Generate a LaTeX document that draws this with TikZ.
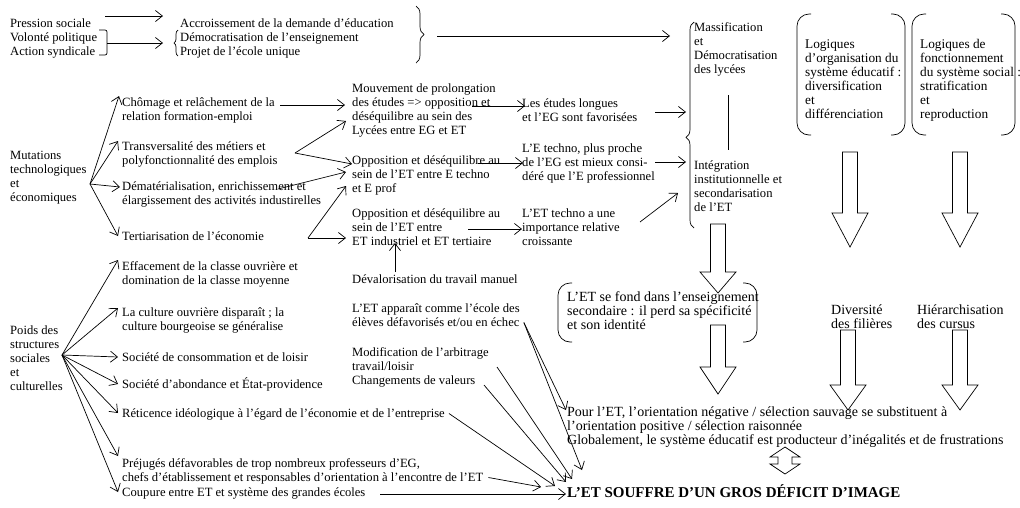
\documentclass[tikz,border=0pt]{standalone}
\usepackage{fontspec}
\setmainfont{Liberation Serif}
\usetikzlibrary{arrows.meta,decorations.pathreplacing}
\newcommand\blockdn[4]{\draw[ln] ({#1-7.5},#2) -- ({#1+7.5},#2) -- ({#1+7.5},#3) -- ({#1+18},#3) -- (#1,#4) -- ({#1-18},#3) -- ({#1-7.5},#3) -- cycle;}
\newcommand\parenpair[4]{%
  \draw[ln, rounded corners=12pt] ({#1+14},#3) -- (#1,#3) -- (#1,#4) -- ({#1+14},#4);
  \draw[ln, rounded corners=12pt] ({#2-14},#3) -- (#2,#3) -- (#2,#4) -- ({#2-14},#4);}
\begin{document}
\begin{tikzpicture}[x=1pt,y=-1pt,
  txt/.style={anchor=base west, inner sep=0pt, align=left, font=\fontsize{12.6}{14}\selectfont},
  bigtxt/.style={txt, font=\fontsize{14}{14}\selectfont},
  logtxt/.style={txt, font=\fontsize{13.3}{14}\selectfont},
  ln/.style={line width=0.7pt},
  arr/.style={ln, -{Straight Barb[length=7pt,width=11pt]}},
  brc/.style={ln, decorate, decoration={brace, amplitude=#1}},
]
\path[fill=white] (0,0) rectangle (1020,507);
\useasboundingbox (0,0) rectangle (1020,507);

% ---------- top block (base anchor = last line)
\node[txt] (left1) at (10,55.5) {Pression sociale\\Volonté politique\\Action syndicale};
\node[txt] (acc) at (180,55.5) {Accroissement de la demande d’éducation\\Démocratisation de l’enseignement\\Projet de l’école unique};
\coordinate (p1s) at (105,16); \coordinate (p1e) at (163,16);
\draw[arr] (p1s) -- (p1e);
\draw[ln, rounded corners=2pt] (99,30) -- (107,30) -- (107,55) -- (99,55);
\coordinate (p2s) at (107,43); \coordinate (p2e) at (163,43);
\draw[arr] (p2s) -- (p2e);
\draw[brc=4pt] (178,56) -- (178,30);
\draw[brc=8pt] (416,6) -- (416,63);
\coordinate (p3s) at (437,36); \coordinate (p3e) at (670,36);
\draw[arr] (p3s) -- (p3e);

% ---------- right column
\node[txt] (mass) at (694,73) {Massification\\et\\Démocratisation\\des lycées};
\coordinate (vl1) at (728,95); \coordinate (vl2) at (728,150);
\draw[ln] (vl1) -- (vl2);
\node[txt] (integ) at (694,211.5) {Intégration\\institutionnelle et\\secondarisation\\de l’ET};
\draw[ln, decorate, decoration={brace, amplitude=8pt, aspect=0.44}] (694,228) -- (694,22);

\node[logtxt] (log1) at (805,118.5) {Logiques\\d’organisation du\\système éducatif :\\diversification\\et\\différenciation};
\node[logtxt] (log2) at (920,118.5) {Logiques de\\fonctionnement\\du système social :\\stratification\\et\\reproduction};
\parenpair{797}{905}{14}{135}
\parenpair{912}{1015}{14}{135}

% ---------- middle column
\node[txt] (etl) at (522,121.5) {Les études longues\\et l’EG sont favorisées};
\node[txt] (etech) at (522,180.5) {L’E techno, plus proche\\de l’EG est mieux consi-\\déré que l’E professionnel};
\node[txt] (ettech) at (522,245.5) {L’ET techno a une\\importance relative\\croissante};

\node[txt] (mouv) at (352,134.5) {Mouvement de prolongation\\des études => opposition et\\déséquilibre au sein des\\Lycées entre EG et ET};
\node[txt] (opp1) at (352,192.5) {Opposition et déséquilibre au\\sein de l’ET entre E techno\\et E prof};
\node[txt] (opp2) at (352,245.5) {Opposition et déséquilibre au\\sein de l’ET entre\\ET industriel et ET tertiaire};
\node[txt] (deval) at (352,283.5) {Dévalorisation du travail manuel};
\node[txt] (appar) at (352,326.5) {L’ET apparaît comme l’école des\\élèves défavorisés et/ou en échec};
\node[txt] (modif) at (352,384.5) {Modification de l’arbitrage\\travail/loisir\\Changements de valeurs};

% ---------- mutations
\node[txt] (mut) at (10,201.5) {Mutations\\technologiques\\et\\économiques};
\node[txt] (chom) at (122,120.5) {Chômage et relâchement de la\\relation formation-emploi};
\node[txt] (transv) at (122,164.5) {Transversalité des métiers et\\polyfonctionnalité des emplois};
\node[txt] (demat) at (122,204.5) {Dématérialisation, enrichissement et\\élargissement des activités industirelles};
\node[txt] (tert) at (122,240.5) {Tertiarisation de l’économie};

\coordinate (fm) at (90,184);
\coordinate (fm1) at (119,96); \coordinate (fm2) at (118,141);
\coordinate (fm3) at (120,187); \coordinate (fm4) at (118,236);
\foreach \t in {fm1,fm2,fm3,fm4} \draw[arr] (fm) -- (\t);

\coordinate (c1s) at (280,105); \coordinate (c1e) at (345,105);
\draw[arr] (c1s) -- (c1e);
\coordinate (tv) at (295,153); \coordinate (tv1) at (346,121); \coordinate (tv2) at (352,164);
\draw[arr] (tv) -- (tv1); \draw[arr] (tv) -- (tv2);
\coordinate (dm) at (278,189); \coordinate (dm1) at (346,172);
\draw[arr] (dm) -- (dm1);
\coordinate (tt) at (308,238); \coordinate (tt1) at (346,186); \coordinate (tt2) at (346,238);
\draw[arr] (tt) -- (tt1); \draw[arr] (tt) -- (tt2);

\coordinate (m1s) at (472,106); \coordinate (m1e) at (525,106);
\draw[arr] (m1s) -- (m1e);
\coordinate (o1s) at (478,163); \coordinate (o1e) at (523,163);
\draw[arr] (o1s) -- (o1e);
\coordinate (o2s) at (468,229); \coordinate (o2e) at (522,229);
\draw[arr] (o2s) -- (o2e);
\coordinate (dvs) at (395,272); \coordinate (dve) at (395,243);
\draw[arr] (dvs) -- (dve);

\coordinate (e1s) at (655,112); \coordinate (e1e) at (686,112);
\draw[arr] (e1s) -- (e1e);
\coordinate (e2s) at (655,162); \coordinate (e2e) at (686,162);
\draw[arr] (e2s) -- (e2e);
\coordinate (e3s) at (640,222); \coordinate (e3e) at (678,193);
\draw[arr] (e3s) -- (e3e);

% ---------- poids
\node[txt] (poids) at (10,390.5) {Poids des\\structures\\sociales\\et\\culturelles};
\node[txt] (eff) at (122,284.5) {Effacement de la classe ouvrière et\\domination de la classe moyenne};
\node[txt] (cult) at (122,330.5) {La culture ouvrière disparaît ; la\\culture bourgeoise se généralise};
\node[txt] (conso) at (122,361.5) {Société de consommation et de loisir};
\node[txt] (abond) at (122,388.5) {Société d’abondance et État-providence};
\node[txt] (retic) at (122,417.5) {Réticence idéologique à l’égard de l’économie et de l’entreprise};
\node[txt] (prej) at (122,481.5) {Préjugés défavorables de trop nombreux professeurs d’EG,\\chefs d’établissement et responsables d’orientation à l’encontre de l’ET};
\node[txt] (coup) at (122,496.5) {Coupure entre ET et système des grandes écoles};

\coordinate (fp) at (62,355);
\coordinate (fp1) at (118,260); \coordinate (fp2) at (118,308); \coordinate (fp3) at (118,357);
\coordinate (fp4) at (118,384); \coordinate (fp5) at (118,413); \coordinate (fp6) at (118,456);
\coordinate (fp7) at (118,492);
\foreach \t in {fp1,fp2,fp3,fp4,fp5,fp6,fp7} \draw[arr] (fp) -- (\t);

% ---------- bottom right
\node[bigtxt] (fond) at (567,329.5) {L’ET se fond dans l’enseignement\\secondaire : il perd sa spécificité\\et son identité};
\parenpair{558}{757}{283}{342}
\node[bigtxt] (divers) at (831,328.5) {Diversité\\des filières};
\node[bigtxt] (hier) at (917,328.5) {Hiérarchisation\\des cursus};
\node[bigtxt] (pour) at (567,444.5) {Pour l’ET, l’orientation négative / sélection sauvage se substituent à\\l’orientation positive / sélection raisonnée\\Globalement, le système éducatif est producteur d’inégalités et de frustrations};
\node[txt, font=\fontsize{15}{15}\selectfont\bfseries] (title) at (567,497.5) {L’ET SOUFFRE D’UN GROS DÉFICIT D’IMAGE};

\blockdn{718}{224}{272}{293}
\blockdn{718}{325}{367}{394}
\blockdn{850}{152}{213}{247}
\blockdn{960}{152}{213}{247}
\blockdn{848}{330}{385}{410}
\blockdn{960}{330}{385}{410}
\draw[ln] (785,447) -- (800,457) -- (792,457) -- (792,464) -- (800,464) -- (785,474) -- (770,464) -- (778,464) -- (778,457) -- (770,457) -- cycle;

% converging arrows
\coordinate (ech) at ([shift={(4,-4)}]appar.base east);
\coordinate (ga) at (566,410); \coordinate (gb) at (582,470);
\draw[arr] (ech) -- (ga); \draw[arr] (ech) -- (gb);
\coordinate (tls) at (497,367); \coordinate (gc) at (572,479);
\draw[arr] (tls) -- (gc);
\coordinate (chv) at (484,385); \coordinate (gd) at (566,482);
\draw[arr] (chv) -- (gd);
\coordinate (rts) at ([shift={(4,-4)}]retic.base east); \coordinate (ge) at (555,486);
\draw[arr] (rts) -- (ge);
\coordinate (prs) at ([shift={(5,-4)}]prej.base east); \coordinate (gf) at (541,487);
\draw[arr] (prs) -- (gf);
\coordinate (cps) at (380,494); \coordinate (gg) at (566,494);
\draw[arr] (cps) -- (gg);
\end{tikzpicture}
\end{document}
